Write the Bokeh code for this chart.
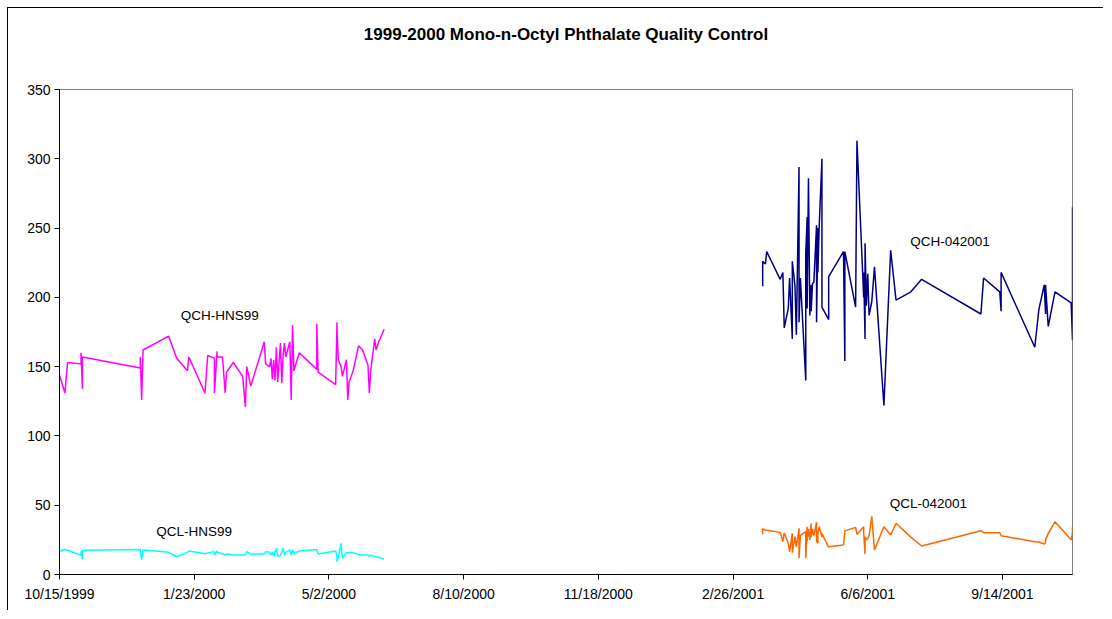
import pandas as pd
from bokeh.plotting import figure
from bokeh.models import Range1d, FixedTicker, CustomJSTickFormatter, Label, ColumnDataSource, Title
from bokeh.embed import file_html
from bokeh.resources import INLINE

# ---------------- data ----------------
dates_hns99 = [
    "1999-10-15", "1999-10-19", "1999-10-21", "1999-10-31", "1999-10-31", "1999-11-01", "1999-11-01",
    "1999-12-14", "1999-12-14", "1999-12-15", "1999-12-16", "2000-01-04", "2000-01-10", "2000-01-18",
    "2000-01-19", "2000-01-31", "2000-02-02", "2000-02-07", "2000-02-07", "2000-02-09", "2000-02-09",
    "2000-02-13", "2000-02-15", "2000-02-16", "2000-02-21", "2000-02-28", "2000-03-01", "2000-03-02",
    "2000-03-05", "2000-03-15", "2000-03-16", "2000-03-19", "2000-03-20", "2000-03-21", "2000-03-22",
    "2000-03-23", "2000-03-24", "2000-03-25", "2000-03-27", "2000-03-28", "2000-03-29", "2000-03-30",
    "2000-03-31", "2000-04-03", "2000-04-04", "2000-04-05", "2000-04-06", "2000-04-10", "2000-04-23",
    "2000-04-23", "2000-04-24", "2000-05-07", "2000-05-08", "2000-05-08", "2000-05-09", "2000-05-11",
    "2000-05-12", "2000-05-15", "2000-05-16", "2000-05-17", "2000-05-20", "2000-05-24", "2000-05-27",
    "2000-05-31", "2000-06-01", "2000-06-02", "2000-06-05", "2000-06-06", "2000-06-08", "2000-06-12",
]
qch_hns99 = [
    144, 131, 153, 152, 160, 134, 157,
    149, 157, 126, 162, 172, 156, 147,
    157, 131, 158, 156, 131, 161, 157,
    157, 131, 146, 153, 143, 121, 150,
    136, 168, 152, 150, 156, 141, 155,
    140, 164, 139, 167, 138, 158, 167,
    157, 168, 126, 180, 147, 160, 148,
    181, 146, 137, 182, 176, 155, 150,
    143, 155, 126, 139, 147, 165, 162,
    151, 131, 147, 170, 162, 168, 177,
]
qcl_hns99 = [
    17, 18, 17.5, 14, 17, 11, 17.5,
    18, 17.5, 10.5, 17.7, 16, 12.8, 16,
    17, 15, 15.5, 16.5, 14, 17, 16,
    15, 14, 15, 14, 14, 14, 16.5,
    14.8, 14.8, 16.5, 16, 14, 16, 13,
    16.5, 19, 13, 14, 16, 19, 14,
    16, 17.7, 14, 18, 15, 17, 18,
    18, 14.8, 17, 12.8, 9.2, 12.8, 22.5,
    11.7, 15.7, 16, 15.5, 15.7, 14.5, 14,
    14, 13, 14, 13, 12.8, 12.5, 11,
]

dates_042001 = [
    "2001-03-20", "2001-03-20", "2001-03-22", "2001-03-23", "2001-04-02", "2001-04-04", "2001-04-05",
    "2001-04-08", "2001-04-09", "2001-04-11", "2001-04-11", "2001-04-13", "2001-04-14", "2001-04-16",
    "2001-04-16", "2001-04-17", "2001-04-21", "2001-04-21", "2001-04-22", "2001-04-22", "2001-04-23",
    "2001-04-24", "2001-04-25", "2001-04-25", "2001-04-26", "2001-04-27", "2001-04-29", "2001-04-29",
    "2001-04-30", "2001-04-30", "2001-05-01", "2001-05-03", "2001-05-03", "2001-05-08", "2001-05-08",
    "2001-05-19", "2001-05-20", "2001-05-20", "2001-05-28", "2001-05-29", "2001-06-03", "2001-06-03",
    "2001-06-04", "2001-06-04", "2001-06-05", "2001-06-06", "2001-06-07", "2001-06-09", "2001-06-11",
    "2001-06-18", "2001-06-23", "2001-06-27", "2001-07-08", "2001-07-16", "2001-08-29", "2001-08-31",
    "2001-09-12", "2001-09-13", "2001-09-13", "2001-10-08", "2001-10-11", "2001-10-15", "2001-10-16",
    "2001-10-16", "2001-10-18", "2001-10-23", "2001-11-04", "2001-11-05", "2001-11-05",
]
qch_042001 = [
    208, 226, 224, 233, 213, 218, 178,
    192, 214, 170, 226, 208, 173, 294,
    182, 214, 140, 232, 258, 192, 286,
    187, 209, 190, 210, 211, 252, 182,
    250, 218, 252, 300, 193, 184, 215,
    233, 154, 233, 193, 313, 200, 218,
    170, 239, 194, 217, 187, 197, 222,
    122, 234, 198, 204, 213, 188, 214,
    204, 190, 218, 164, 191, 209, 188,
    209, 179, 204, 196, 169, 265,
]
qcl_042001 = [
    29, 33, 32, 32, 30.4, 23.7, 30,
    22.5, 16.5, 29.7, 15.7, 27.3, 20, 33.3,
    11.7, 28, 30.9, 11.7, 34.5, 24, 33,
    25, 36.9, 27, 33, 28, 37.7, 24,
    22.5, 30, 34.5, 27, 29.7, 19.6, 20,
    21.3, 30.9, 31.5, 34, 29, 34.5, 30,
    14.8, 27.3, 25, 26, 28, 42, 17.7,
    34.5, 28.5, 37, 27, 20.6, 31.6, 30.2,
    30.2, 28, 28, 23.7, 23.5, 22, 23,
    25, 29.7, 38, 25, 30, 34.5,
]

x_tick_dates = ["1999-10-15", "2000-01-23", "2000-05-02", "2000-08-10",
                "2000-11-18", "2001-02-26", "2001-06-06", "2001-09-14"]
y_ticks = [0, 50, 100, 150, 200, 250, 300, 350]
x_start, x_end = "1999-10-15", "2001-11-05"

title_text = "1999-2000 Mono-n-Octyl Phthalate Quality Control"
series_labels = ["QCH-HNS99", "QCL-HNS99", "QCH-042001", "QCL-042001"]
label_dates = ["2000-02-11", "2000-01-23", "2001-08-06", "2001-07-21"]
label_values = [187, 31, 240.6, 51.4]

# ---------------- plot ----------------
def ms(d):
    return pd.Timestamp(d).value / 1e6

FONT = "Liberation Sans"

p = figure(width=1096, height=603, x_axis_type="datetime",
           output_backend="svg", toolbar_location=None, title=None,
           x_range=Range1d(ms(x_start), ms(x_end)), y_range=Range1d(0, 350),
           min_border_left=51, min_border_right=32, min_border_top=81, min_border_bottom=37)

p.styles = {"margin-left": "7px", "margin-top": "7px",
            "border-left": "1px solid #000000", "border-top": "1px solid #000000"}

# empty spacer panel between the plot area and the title
p.add_layout(Title(text=" ", text_font_size="1px", standoff=38), "above")
p.add_layout(Title(text=title_text, align="center", text_font=FONT, text_font_size="17px",
                   text_font_style="bold", text_color="#000000"), "above")

p.background_fill_color = "white"
p.border_fill_color = "white"
p.outline_line_color = "#808080"
p.outline_line_width = 1
p.xgrid.grid_line_color = None
p.ygrid.grid_line_color = None

for ax in (p.xaxis[0], p.yaxis[0]):
    ax.axis_line_color = "#000000"
    ax.major_tick_line_color = "#000000"
    ax.major_tick_out = 5
    ax.major_tick_in = 0
    ax.minor_tick_line_color = None
    ax.major_label_text_font = FONT
    ax.major_label_text_font_size = "14px"
    ax.major_label_text_color = "#000000"

p.xaxis.ticker = FixedTicker(ticks=[ms(d) for d in x_tick_dates], minor_ticks=[])
p.xaxis.formatter = CustomJSTickFormatter(code="""
const d = new Date(tick);
return (d.getUTCMonth() + 1) + "/" + d.getUTCDate() + "/" + d.getUTCFullYear();
""")
p.xaxis.major_label_standoff = 6
p.yaxis.ticker = FixedTicker(ticks=y_ticks, minor_ticks=[])
p.yaxis.major_label_standoff = 4

src_a = ColumnDataSource(dict(x=pd.to_datetime(dates_hns99), qch=qch_hns99, qcl=qcl_hns99))
src_b = ColumnDataSource(dict(x=pd.to_datetime(dates_042001), qch=qch_042001, qcl=qcl_042001))

p.line("x", "qch", source=src_a, line_color="#FF00FF", line_width=1.5)
p.line("x", "qcl", source=src_a, line_color="#00FFFF", line_width=1.5)
p.line("x", "qch", source=src_b, line_color="#000080", line_width=1.5)
p.line("x", "qcl", source=src_b, line_color="#FF6600", line_width=1.5)

for txt, d, v in zip(series_labels, label_dates, label_values):
    p.add_layout(Label(x=ms(d), y=v, text=txt, text_align="center", text_baseline="middle",
                       text_font=FONT, text_font_size="13.5px", text_color="#000000"))

open("out.html", "w").write(file_html(p, INLINE))
